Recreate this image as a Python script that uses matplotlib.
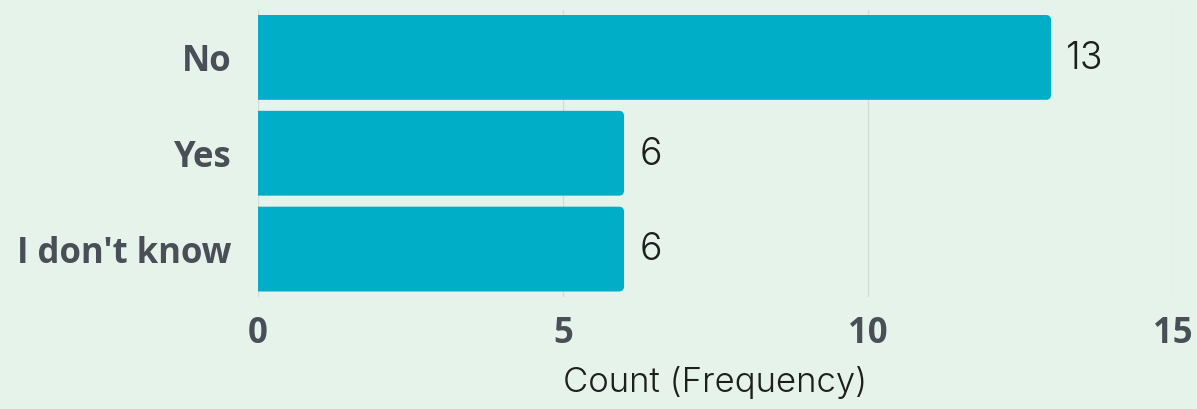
import matplotlib
matplotlib.use("Agg")
import matplotlib.pyplot as plt
from matplotlib.patches import FancyBboxPatch

categories = ["No", "Yes", "I don't know"]
counts = [13, 6, 6]
xticks = [0, 5, 10, 15]
xlabel = "Count (Frequency)"

BG = "#e6f3ea"
BAR = "#00afc7"
TICK = "#4a4f57"

fig = plt.figure(figsize=(11.97, 4.09), dpi=100, facecolor=BG)
ax = fig.add_axes([258/1197, 1-297/409, (1173-258)/1197, (297-9.5)/409])
ax.set_facecolor(BG)

ax.set_xlim(0, 15)
ax.set_ylim(len(categories)-0.5, -0.5)

h = 0.885
px_x = (1173-258)/15.0
px_y = (297-9.5)/3.0
r = 5.0 / px_x
for i, (c, v) in enumerate(zip(categories, counts)):
    p = FancyBboxPatch((-1, i - h/2), v + 1, h,
                       boxstyle=f"round,pad=0,rounding_size={r}",
                       mutation_aspect=px_x/px_y,
                       facecolor=BAR, edgecolor="none", zorder=3, clip_on=True)
    ax.add_patch(p)
    ax.annotate(str(v), xy=(v, i), xytext=(11, -1), textcoords="offset points",
                ha="left", va="center", fontsize=27, family="Inter",
                fontweight=300, color="#1e1e1e")

ax.set_yticks(range(len(categories)))
ax.set_yticklabels(categories, fontsize=25, family="Open Sans",
                   fontweight="bold", color=TICK)
ax.set_xticks(xticks)
ax.set_xticklabels([str(t) for t in xticks], fontsize=25, family="Open Sans",
                   fontweight="bold", color=TICK)
ax.tick_params(axis="y", length=0, pad=19)
ax.tick_params(axis="x", length=0, pad=14)
ax.set_xlabel(xlabel, fontsize=25, family="Inter", fontweight=300,
              color="#1e1e1e", labelpad=10)

ax.grid(axis="x", color="#d3ddd6", linewidth=1, zorder=0)
ax.set_axisbelow(True)
for s in ax.spines.values():
    s.set_visible(False)

fig.savefig("out.png", dpi=100, facecolor=BG)
